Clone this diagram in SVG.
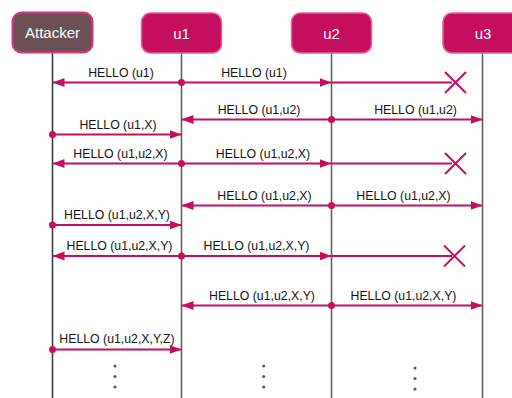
<svg xmlns="http://www.w3.org/2000/svg" width="512" height="398" viewBox="0 0 512 398">
<style>
.box{fill:#c40f5e;stroke:#e2609a;stroke-width:1.5}
.att{fill:#6b5155;stroke:#dc3383;stroke-width:2}
.bt{font-family:"Liberation Sans",Arial,sans-serif;font-size:15px;fill:#ffffff;text-anchor:middle}
.life{stroke:#5a5a5a;stroke-width:1.5}
.msg{stroke:#c40f5e;stroke-width:2;fill:none}
.ml{font-family:"Liberation Sans",Arial,sans-serif;font-size:12.3px;fill:#111111;text-anchor:middle}
.dot{fill:#c40f5e}
.x{stroke:#c40f5e;stroke-width:2;fill:none}
.el{fill:#6b5155}
</style>
<defs>
<marker id="ah" markerUnits="userSpaceOnUse" markerWidth="13" markerHeight="10" refX="12" refY="4.5" orient="auto">
<path d="M0,0 L12,4.5 L0,9 z" fill="#c40f5e"/>
</marker>
</defs>
<g id="lifelines">
<line class="life" x1="52.5" y1="52" x2="52.5" y2="398" stroke="#333333" style="stroke:#333333"/>
<line class="life" x1="181.5" y1="53" x2="181.5" y2="398"/>
<line class="life" x1="331.5" y1="53" x2="331.5" y2="398"/>
<line class="life" x1="482.5" y1="53" x2="482.5" y2="398"/>
</g>
<g id="attacker"><rect class="att" x="12.5" y="12.5" width="80" height="40" rx="9"/><text class="bt" x="52.5" y="38">Attacker</text></g>
<g id="u1"><rect class="box" x="141.5" y="13" width="80" height="40" rx="9"/><text class="bt" x="181.5" y="38.5">u1</text></g>
<g id="u2"><rect class="box" x="291.5" y="13" width="80" height="40" rx="9"/><text class="bt" x="331.5" y="38.5">u2</text></g>
<g id="u3"><rect class="box" x="443" y="13" width="80" height="40" rx="9"/><text class="bt" x="483" y="38.5">u3</text></g>
<g id="connectors">
<!-- row 1 -->
<line class="msg" x1="181.5" y1="82.5" x2="52.5" y2="82.5" marker-end="url(#ah)"/>
<line class="msg" x1="181.5" y1="82.5" x2="331.5" y2="82.5" marker-end="url(#ah)"/>
<line class="msg" x1="331.5" y1="82.5" x2="452" y2="82.5"/>
<circle class="dot" cx="181.5" cy="82.5" r="3.5"/>
<path class="x" d="M445,72 L466,93 M445,93 L466,72"/>
<text class="ml" x="121" y="77">HELLO (u1)</text>
<text class="ml" x="254" y="77">HELLO (u1)</text>
<!-- row 2 -->
<line class="msg" x1="331.5" y1="119.5" x2="181.5" y2="119.5" marker-end="url(#ah)"/>
<line class="msg" x1="331.5" y1="119.5" x2="482.5" y2="119.5" marker-end="url(#ah)"/>
<circle class="dot" cx="331.5" cy="119.5" r="3.5"/>
<text class="ml" x="259" y="114">HELLO (u1,u2)</text>
<text class="ml" x="415.5" y="114">HELLO (u1,u2)</text>
<!-- row 3 -->
<line class="msg" x1="52.5" y1="134.5" x2="181.5" y2="134.5" marker-end="url(#ah)"/>
<circle class="dot" cx="52.5" cy="134.5" r="3.5"/>
<text class="ml" x="118" y="129">HELLO (u1,X)</text>
<!-- row 4 -->
<line class="msg" x1="181.5" y1="163.5" x2="52.5" y2="163.5" marker-end="url(#ah)"/>
<line class="msg" x1="181.5" y1="163.5" x2="331.5" y2="163.5" marker-end="url(#ah)"/>
<line class="msg" x1="331.5" y1="163.5" x2="452" y2="163.5"/>
<circle class="dot" cx="181.5" cy="163.5" r="3.5"/>
<path class="x" d="M445,153 L466,174 M445,174 L466,153"/>
<text class="ml" x="120.5" y="158">HELLO (u1,u2,X)</text>
<text class="ml" x="263" y="158">HELLO (u1,u2,X)</text>
<!-- row 5 -->
<line class="msg" x1="331.5" y1="205.5" x2="181.5" y2="205.5" marker-end="url(#ah)"/>
<line class="msg" x1="331.5" y1="205.5" x2="482.5" y2="205.5" marker-end="url(#ah)"/>
<circle class="dot" cx="331.5" cy="205.5" r="3.5"/>
<text class="ml" x="264.5" y="200">HELLO (u1,u2,X)</text>
<text class="ml" x="403.5" y="200">HELLO (u1,u2,X)</text>
<!-- row 6 -->
<line class="msg" x1="52.5" y1="225" x2="181.5" y2="225" marker-end="url(#ah)"/>
<circle class="dot" cx="52.5" cy="225" r="3.5"/>
<text class="ml" x="117" y="219">HELLO (u1,u2,X,Y)</text>
<!-- row 7 -->
<line class="msg" x1="181.5" y1="256" x2="52.5" y2="256" marker-end="url(#ah)"/>
<line class="msg" x1="181.5" y1="256" x2="331.5" y2="256" marker-end="url(#ah)"/>
<line class="msg" x1="331.5" y1="256" x2="452" y2="256"/>
<circle class="dot" cx="181.5" cy="256" r="3.5"/>
<path class="x" d="M444,245.5 L465,266.5 M444,266.5 L465,245.5"/>
<text class="ml" x="119.5" y="250">HELLO (u1,u2,X,Y)</text>
<text class="ml" x="256.5" y="250">HELLO (u1,u2,X,Y)</text>
<!-- row 8 -->
<line class="msg" x1="331.5" y1="305.5" x2="181.5" y2="305.5" marker-end="url(#ah)"/>
<line class="msg" x1="331.5" y1="305.5" x2="482.5" y2="305.5" marker-end="url(#ah)"/>
<circle class="dot" cx="331.5" cy="305.5" r="3.5"/>
<text class="ml" x="262" y="300">HELLO (u1,u2,X,Y)</text>
<text class="ml" x="403.5" y="300">HELLO (u1,u2,X,Y)</text>
<!-- row 9 -->
<line class="msg" x1="52.5" y1="349.5" x2="181.5" y2="349.5" marker-end="url(#ah)"/>
<circle class="dot" cx="52.5" cy="349.5" r="3.5"/>
<text class="ml" x="117" y="343">HELLO (u1,u2,X,Y,Z)</text>
</g>
<g id="ellipses">
<circle class="el" cx="115" cy="366" r="1.6"/><circle class="el" cx="115" cy="376.5" r="1.6"/><circle class="el" cx="115" cy="387" r="1.6"/>
<circle class="el" cx="263.7" cy="366" r="1.6"/><circle class="el" cx="263.7" cy="376.5" r="1.6"/><circle class="el" cx="263.7" cy="387" r="1.6"/>
<circle class="el" cx="415" cy="368" r="1.6"/><circle class="el" cx="415" cy="378.5" r="1.6"/><circle class="el" cx="415" cy="389" r="1.6"/>
</g>
</svg>
